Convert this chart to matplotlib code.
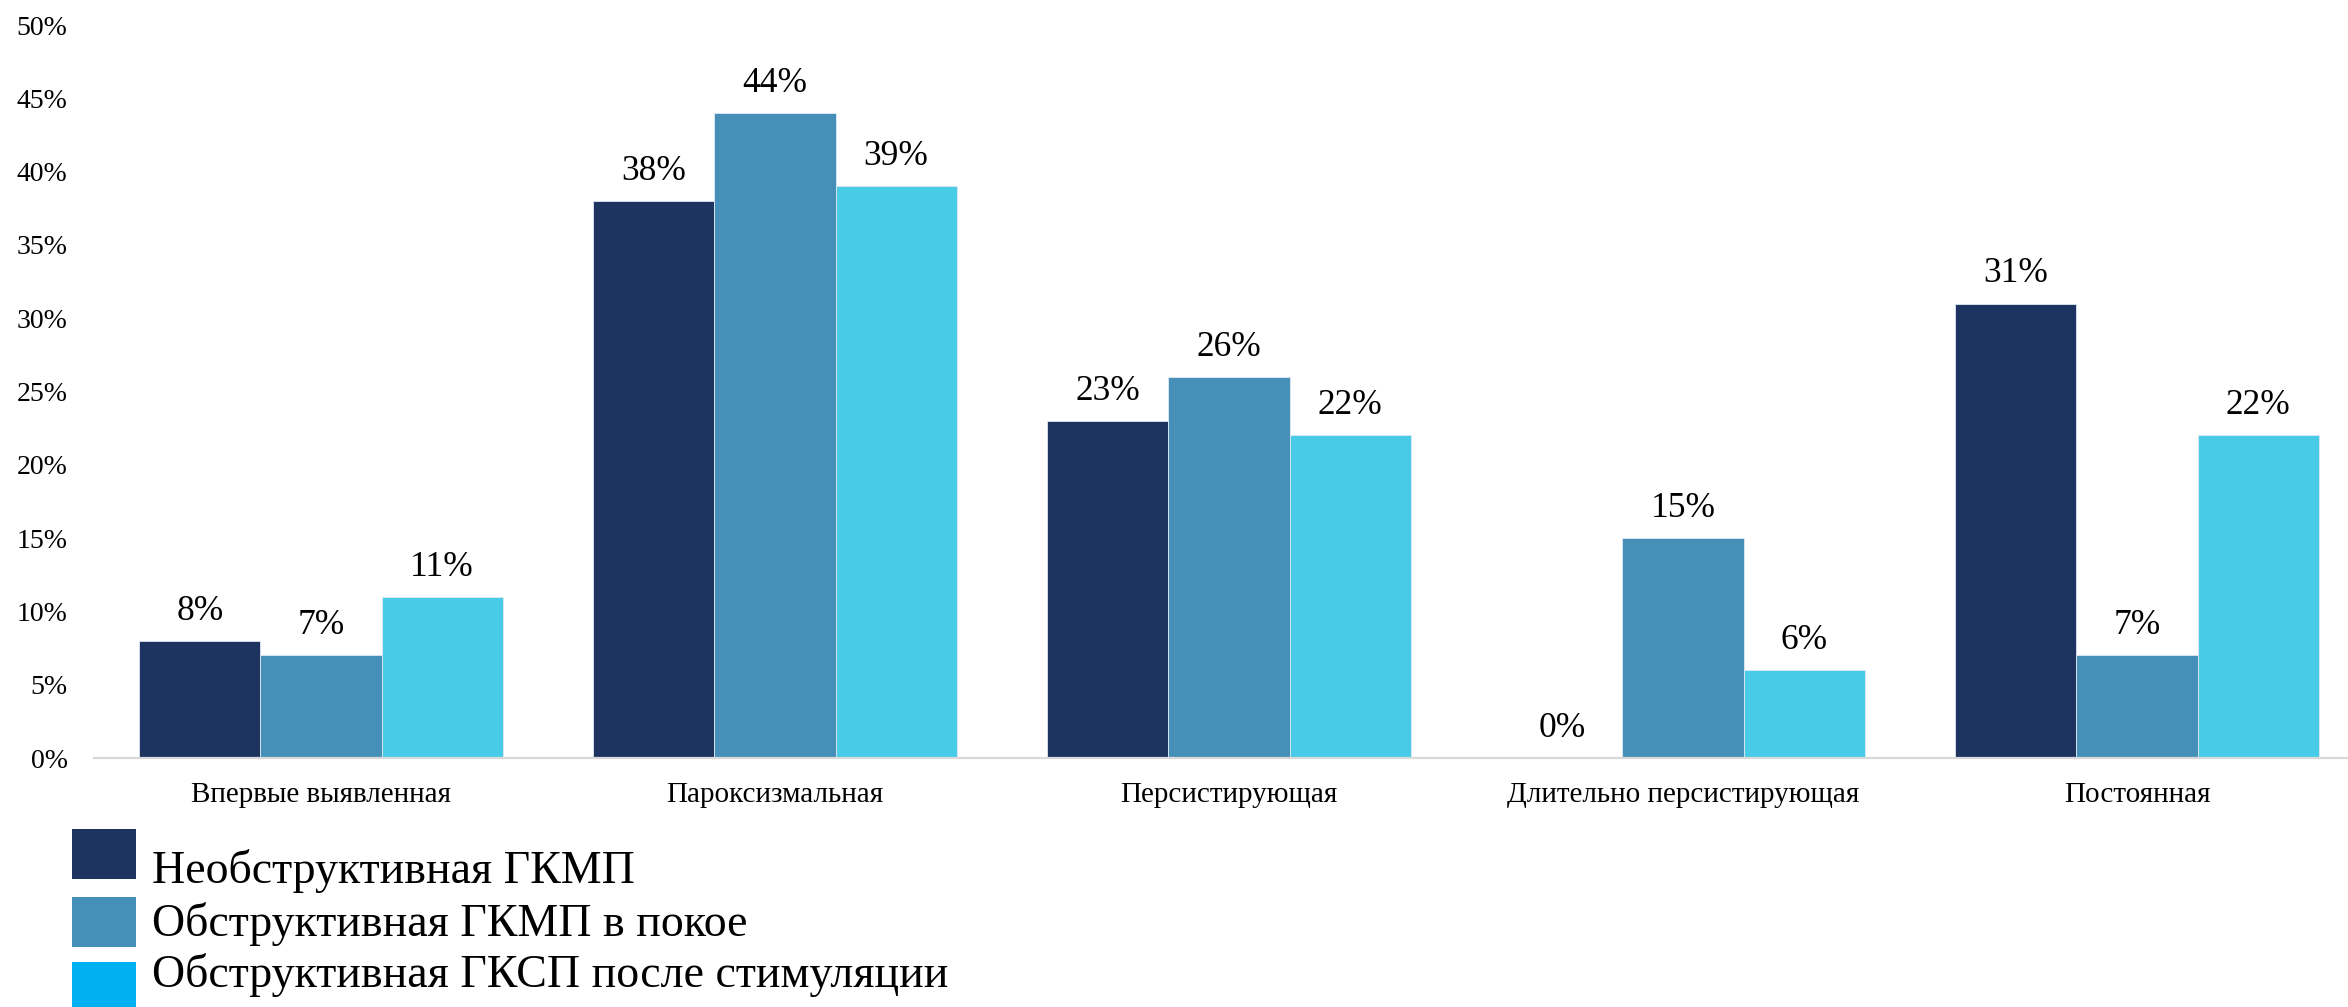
import matplotlib
matplotlib.use("Agg")
import matplotlib.pyplot as plt
from matplotlib.patches import Rectangle
import numpy as np

plt.rcParams['font.family'] = ['Liberation Serif', 'DejaVu Serif']

categories = ["Впервые выявленная", "Пароксизмальная", "Персистирующая",
              "Длительно персистирующая", "Постоянная"]
series_names = ["Необструктивная ГКМП",
                "Обструктивная ГКМП в покое",
                "Обструктивная ГКСП после стимуляции"]
nonobstructive = [8, 38, 23, 0, 31]
obstructive_rest = [7, 44, 26, 15, 7]
obstructive_provoked = [11, 39, 22, 6, 22]
y_ticks = [0, 5, 10, 15, 20, 25, 30, 35, 40, 45, 50]

series = [nonobstructive, obstructive_rest, obstructive_provoked]
bar_colors = ["#1d3360", "#468fb8", "#47cbe6"]
legend_colors = ["#1d3360", "#468fb8", "#00b0f0"]

W, H = 2348, 1007
dpi = 100
fig = plt.figure(figsize=(W / dpi, H / dpi), dpi=dpi)
ax = fig.add_axes([94 / W, 1 - 758 / H, 2270 / W, (758 - 25) / H])

x = np.arange(len(categories))
bw = 0.8 / 3
for i, (vals, col) in enumerate(zip(series, bar_colors)):
    pos = x + (i - 1) * bw
    ax.bar(pos, vals, width=bw, color=col, edgecolor="#dfe9f2",
           linewidth=0.6, zorder=2)
    for xi, v in zip(pos, vals):
        ax.annotate(f"{v}%", (xi, v), xytext=(0, 9.5), textcoords="offset points",
                    ha="center", va="bottom", fontsize=25.5, color="black")

ax.set_xlim(-0.5, len(categories) - 0.5)
ax.set_ylim(0, 50)
ax.set_yticks(y_ticks)
ax.set_yticklabels([f"{t}%" for t in y_ticks], fontsize=20)
ax.set_xticks(x)
ax.set_xticklabels(categories, fontsize=21)
ax.tick_params(axis="y", length=0, pad=19)
ax.tick_params(axis="x", length=0, pad=17)
for s in ["left", "right", "top"]:
    ax.spines[s].set_visible(False)
ax.spines["bottom"].set_color("#d9d9d9")
ax.spines["bottom"].set_linewidth(1.6)

# legend drawn as figure patches and text
patch_tops = [829, 897, 962]
text_baselines = [883, 936, 987]
for name, col, pt, tb in zip(series_names, legend_colors, patch_tops, text_baselines):
    fig.patches.append(Rectangle((72 / W, 1 - (pt + 50) / H), 64 / W, 50 / H,
                                 transform=fig.transFigure, facecolor=col,
                                 edgecolor="none"))
    fig.text(152 / W, 1 - tb / H, name, fontsize=33, ha="left",
             va="baseline", color="black")

fig.savefig("out.png", dpi=dpi)
